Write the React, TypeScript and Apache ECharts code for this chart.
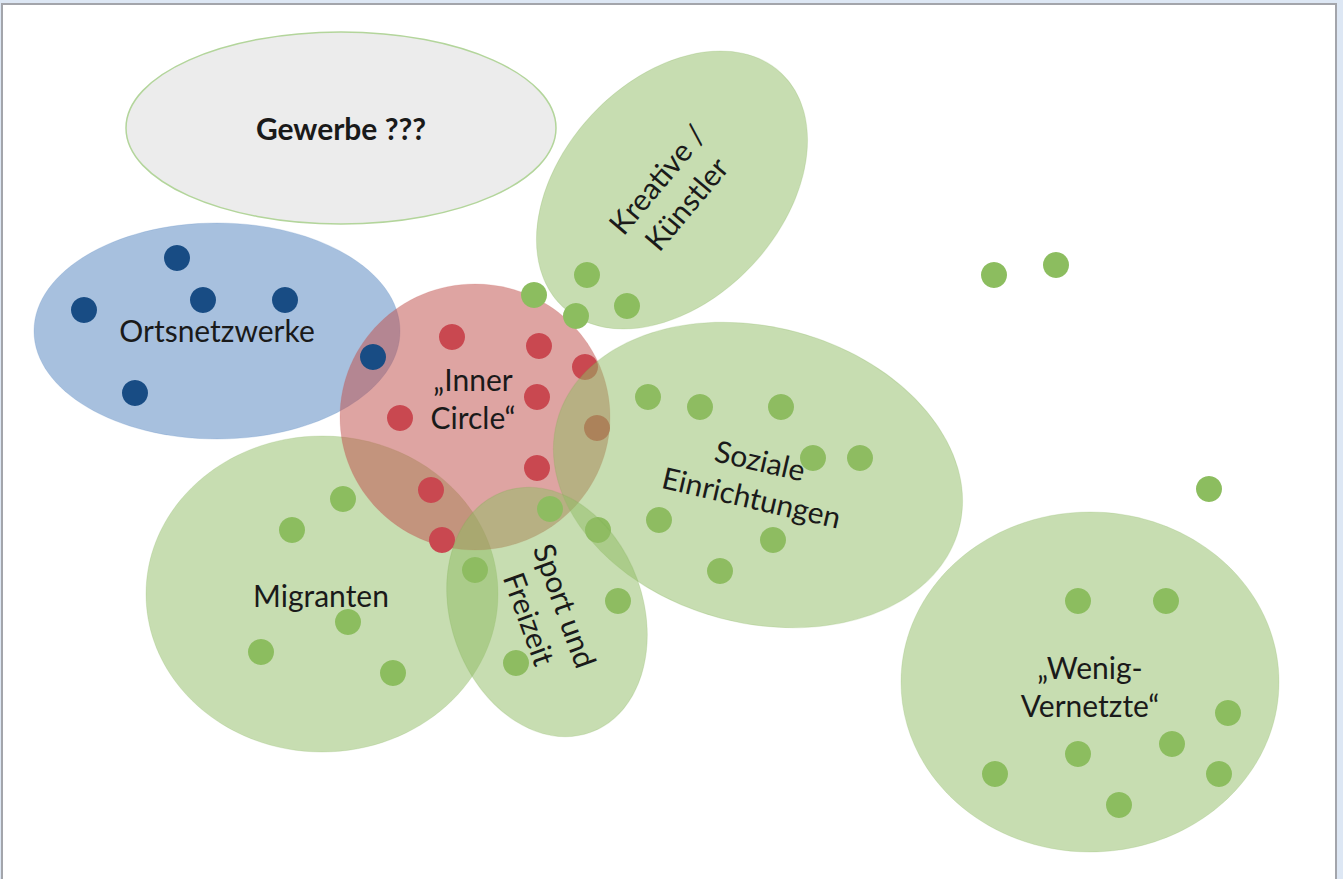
import React, { useEffect, useRef } from "react";
import * as echarts from "echarts";

// ---- groups (ellipses) ----
const groupNames = [
  "Gewerbe ???",
  "Ortsnetzwerke",
  "Kreative /\nKünstler",
  "Migranten",
  "„Inner\nCircle“",
  "„Wenig-\nVernetzte“",
  "Soziale\nEinrichtungen",
  "Sport und\nFreizeit",
];
const groupCenterX = [341, 217, 672, 322, 475, 1090, 758, 547];
const groupCenterY = [128, 331, 190, 594, 417, 682, 475, 612];
const groupRadiusX = [215, 183, 160, 176, 135, 189, 208, 128];
const groupRadiusY = [96, 108, 110, 158, 133, 170, 148, 96];
const groupTilt = [0, 0, 47, 0, 0, 0, -15, -70];
const groupKind = ["grey", "blue", "green", "green", "red", "green", "green", "green"];
const backGroups = [0, 1, 2, 3, 4, 5];
const frontGroups = [6, 7];

// ---- labels ----
const labelX = [341, 217, 671, 321, 473, 1090, 756, 548];
const labelY = [128, 330, 191, 595, 398, 686, 478, 612];
const labelRotate = [0, 0, 50, 0, 0, 0, -13, -70];

// ---- members (dots) ----
const blueX = [177, 84, 203, 285, 135, 373];
const blueY = [258, 310, 300, 300, 393, 357];
const redX = [452, 539, 585, 537, 400, 597, 537, 431, 442];
const redY = [337, 346, 367, 397, 418, 428, 468, 490, 540];
const greenX = [
  587, 534, 627, 576, 994, 1056, 648, 700, 781, 813, 860, 659, 773, 720, 598,
  618, 550, 475, 516, 343, 292, 348, 261, 393, 1209, 1078, 1166, 1228, 1172,
  1078, 995, 1219, 1119,
];
const greenY = [
  275, 295, 306, 316, 275, 265, 397, 407, 407, 458, 458, 520, 540, 571, 530,
  601, 509, 570, 663, 499, 530, 622, 652, 673, 489, 601, 601, 713, 744, 754,
  774, 774, 805,
];

const W = 1343;
const H = 879;

const fills: Record<string, string> = {
  grey: "#ececec",
  blue: "rgba(79,129,189,0.5)",
  green: "rgba(143,187,99,0.5)",
  red: "rgba(192,80,77,0.52)",
};
const strokes: Record<string, string> = {
  grey: "#b3d59b",
  blue: "rgba(79,129,189,0.2)",
  green: "rgba(120,170,80,0.18)",
  red: "rgba(192,80,77,0.15)",
};

const FONT = "Lato, 'Open Sans', sans-serif";

function ellipseData(ids: number[]) {
  return ids.map((i) => [
    groupCenterX[i],
    groupCenterY[i],
    groupRadiusX[i],
    groupRadiusY[i],
    groupTilt[i],
    i,
  ]);
}

function renderEllipse(_params: any, api: any) {
  const c = api.coord([api.value(0), api.value(1)]);
  const s = api.size([api.value(2), api.value(3)]);
  const kind = groupKind[api.value(5)];
  return {
    type: "ellipse",
    x: c[0],
    y: c[1],
    rotation: (api.value(4) * Math.PI) / 180,
    shape: { cx: 0, cy: 0, rx: s[0], ry: s[1] },
    style: { fill: fills[kind], stroke: strokes[kind], lineWidth: kind === "grey" ? 1.5 : 1 },
  };
}

export default function App() {
  const ref = useRef<HTMLDivElement>(null);
  useEffect(() => {
    if (!ref.current) return;
    const chart = echarts.init(ref.current, undefined, { renderer: "svg" });
    const dot = (xs: number[], ys: number[]) => xs.map((x, i) => [x, ys[i]]);
    chart.setOption({
      animation: false,
      backgroundColor: "#dde7f4",
      grid: { left: 0, right: 0, top: 0, bottom: 0 },
      xAxis: { type: "value", min: 0, max: W, show: false },
      yAxis: { type: "value", min: 0, max: H, inverse: true, show: false },
      graphic: [
        {
          type: "rect",
          z: -10,
          shape: { x: 2, y: 4, width: 1334, height: 890 },
          style: { fill: "#ffffff", stroke: "#a3a5ab", lineWidth: 2 },
        },
      ],
      series: [
        {
          type: "custom",
          name: "back",
          z: 1,
          silent: true,
          clip: false,
          renderItem: renderEllipse,
          data: ellipseData(backGroups),
        },
        {
          type: "scatter",
          name: "Ortsnetzwerke",
          z: 2,
          symbolSize: 26,
          itemStyle: { color: "#184c84", opacity: 1 },
          data: dot(blueX, blueY),
        },
        {
          type: "scatter",
          name: "Inner Circle",
          z: 2,
          symbolSize: 26,
          itemStyle: { color: "#c94850", opacity: 1 },
          data: dot(redX, redY),
        },
        {
          type: "scatter",
          name: "Akteure",
          z: 2,
          symbolSize: 26,
          itemStyle: { color: "#8cbd5f", opacity: 1 },
          data: dot(greenX, greenY),
        },
        {
          type: "custom",
          name: "front",
          z: 3,
          silent: true,
          clip: false,
          renderItem: renderEllipse,
          data: ellipseData(frontGroups),
        },
        {
          type: "custom",
          name: "labels",
          z: 5,
          silent: true,
          clip: false,
          renderItem: (_p: any, api: any) => {
            const i = api.value(3);
            const c = api.coord([api.value(0), api.value(1)]);
            return {
              type: "text",
              x: c[0],
              y: c[1],
              rotation: (api.value(2) * Math.PI) / 180,
              style: {
                text: groupNames[i],
                fill: "#1a1a1a",
                fontFamily: FONT,
                fontSize: 30,
                fontWeight: i === 0 ? "bold" : "normal",
                lineHeight: 38,
                align: "center",
                verticalAlign: "middle",
              },
            };
          },
          data: groupNames.map((_, i) => [labelX[i], labelY[i], labelRotate[i], i]),
        },
      ],
    });
    return () => chart.dispose();
  }, []);
  return (
    <div
      ref={ref}
      style={{ position: "fixed", left: 0, top: 0, width: W, height: H }}
    />
  );
}
